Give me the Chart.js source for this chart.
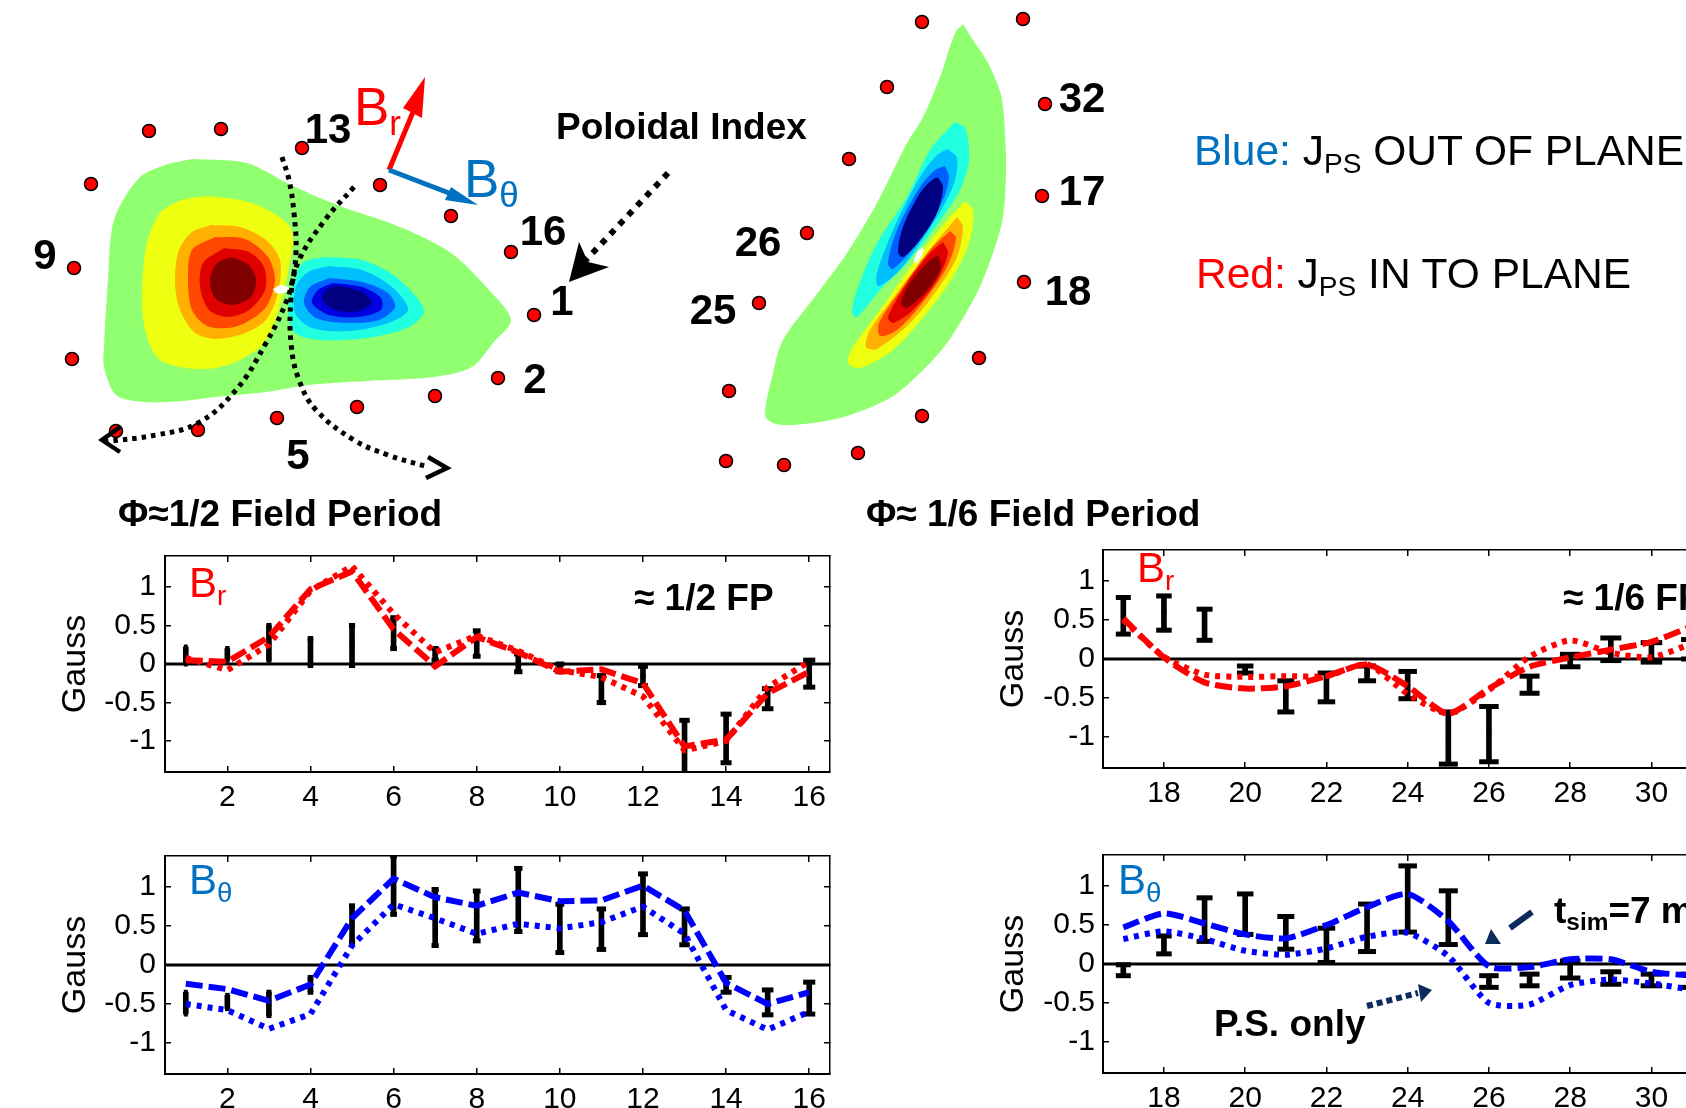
<!DOCTYPE html>
<html>
<head>
<meta charset="utf-8">
<script src="https://cdn.jsdelivr.net/npm/chart.js@4/dist/chart.umd.js"></script>
<style>
  html, body { margin: 0; background: #fff; width: 1686px; height: 1108px; overflow: hidden; font-family: "Liberation Sans", sans-serif; }
  canvas { position: absolute; }
  .t { position: absolute; white-space: nowrap; color: #000; line-height: 1; transform: translateY(-50%); }
  .n { font-weight: bold; font-size: 42px; transform: translate(-50%, -50%); }
  .h { font-weight: bold; font-size: 37px; }
  .s { font-size: 42.5px; }
  .b { font-size: 53px; }
  .p { font-size: 42px; }
  sub { font-size: 66%; vertical-align: baseline; position: relative; top: 0.28em; line-height: 0; }
</style>
</head>
<body>
<canvas id="panelA"></canvas>
<canvas id="panelB"></canvas>
<canvas id="panelC"></canvas>
<canvas id="panelD"></canvas>
<canvas id="maps"></canvas>

<div class="t n" style="left:328px;top:129px">13</div>
<div class="t n" style="left:543px;top:231px">16</div>
<div class="t n" style="left:45px;top:255px">9</div>
<div class="t n" style="left:562px;top:301px">1</div>
<div class="t n" style="left:535px;top:379px">2</div>
<div class="t n" style="left:298px;top:455px">5</div>
<div class="t n" style="left:1082px;top:98px">32</div>
<div class="t n" style="left:1082px;top:191px">17</div>
<div class="t n" style="left:1068px;top:291px">18</div>
<div class="t n" style="left:758px;top:242px">26</div>
<div class="t n" style="left:713px;top:310px">25</div>
<div class="t b" style="left:354px;top:106px;color:#f00">B<sub>r</sub></div>
<div class="t b" style="left:464px;top:178px;color:#0070c0">B<sub>θ</sub></div>
<div class="t h" style="left:556px;top:126px">Poloidal Index</div>
<div class="t h" style="left:118px;top:513px">Φ≈1/2 Field Period</div>
<div class="t h" style="left:866px;top:513px">Φ≈ 1/6 Field Period</div>
<div class="t s" style="left:1194px;top:151px"><span style="color:#0070c0">Blue:</span> J<sub>PS</sub> OUT OF PLANE</div>
<div class="t s" style="left:1196px;top:274px"><span style="color:#f00">Red:</span> J<sub>PS</sub> IN TO PLANE</div>
<div class="t h" style="left:634px;top:597px">≈ 1/2 FP</div>
<div class="t h" style="left:1563px;top:597px">≈ 1/6 FP</div>
<div class="t p" style="left:189px;top:583px;color:#f00">B<sub>r</sub></div>
<div class="t p" style="left:189px;top:880px;color:#0070c0">B<sub>θ</sub></div>
<div class="t p" style="left:1137px;top:568px;color:#f00">B<sub>r</sub></div>
<div class="t p" style="left:1118px;top:880px;color:#0070c0">B<sub>θ</sub></div>
<div class="t h" style="left:1554px;top:910px">t<sub>sim</sub>=7 ms</div>
<div class="t h" style="left:1214px;top:1023px">P.S. only</div>

<script>
// --- probe indices and tick labels
const indexHalf = [1, 2, 3, 4, 5, 6, 7, 8, 9, 10, 11, 12, 13, 14, 15, 16];
const indexSixth = [17, 18, 19, 20, 21, 22, 23, 24, 25, 26, 27, 28, 29, 30, 31];
const xTicksHalf = [2, 4, 6, 8, 10, 12, 14, 16];
const xTicksSixth = [18, 20, 22, 24, 26, 28, 30, 32];
const yTickValues = [-1, -0.5, 0, 0.5, 1];

// --- Br, 1/2 field period
const brHalfFull = [0.05, 0.03, 0.35, 0.97, 1.2, 0.45, -0.03, 0.35, 0.15, -0.1, -0.07, -0.25, -1.07, -0.98, -0.38, -0.1];
const brHalfPs = [0.08, -0.08, 0.25, 0.95, 1.27, 0.65, 0.15, 0.37, 0.17, -0.08, -0.17, -0.42, -1.12, -1.0, -0.3, 0.03];
const brHalfLow = [0, 0.05, 0.05, -0.02, -0.02, 0.2, 0.05, 0.1, -0.1, -0.1, -0.5, -0.28, -1.42, -1.28, -0.58, -0.3];
const brHalfHigh = [0.22, 0.2, 0.5, 0.33, 0.5, 0.6, 0.2, 0.43, 0.13, 0, -0.15, -0.03, -0.73, -0.65, -0.32, 0.05];
const brHalfMid = [0.1, 0.12, 0.27, 0.15, 0.23, 0.4, 0.12, 0.27, 0, -0.05, -0.33, -0.15, -1.12, -0.97, -0.45, -0.13];

// --- Btheta, 1/2 field period
const btHalfFull = [-0.24, -0.31, -0.46, -0.25, 0.6, 1.11, 0.87, 0.76, 0.93, 0.82, 0.83, 1.02, 0.7, -0.23, -0.5, -0.35];
const btHalfPs = [-0.5, -0.58, -0.82, -0.63, 0.25, 0.78, 0.6, 0.4, 0.53, 0.47, 0.55, 0.75, 0.4, -0.58, -0.83, -0.6];
const btHalfLow = [-0.63, -0.56, -0.65, -0.35, 0.29, 0.65, 0.25, 0.31, 0.43, 0.16, 0.2, 0.39, 0.26, -0.35, -0.64, -0.63];
const btHalfHigh = [-0.35, -0.39, -0.35, -0.16, 0.76, 1.4, 0.97, 0.95, 1.24, 0.78, 0.72, 1.17, 0.72, -0.16, -0.32, -0.22];
const btHalfMid = [-0.5, -0.5, -0.52, -0.25, 0.52, 1.0, 0.6, 0.63, 0.85, 0.47, 0.46, 0.78, 0.47, -0.26, -0.48, -0.42];

// --- Br, 1/6 field period
const brSixthFull = [0.52, 0.02, -0.3, -0.38, -0.35, -0.22, -0.07, -0.35, -0.7, -0.38, -0.1, 0.02, 0.12, 0.22, 0.42];
const brSixthPs = [0.5, 0.03, -0.2, -0.23, -0.22, -0.22, -0.07, -0.45, -0.7, -0.4, 0.03, 0.24, 0.08, 0.02, 0.2];
const brSixthLow = [0.32, 0.37, 0.24, -0.18, -0.68, -0.55, -0.28, -0.51, -1.35, -1.32, -0.44, -0.1, -0.02, -0.04, 0];
const brSixthHigh = [0.79, 0.81, 0.64, -0.09, -0.28, -0.18, -0.09, -0.16, -0.68, -0.61, -0.22, 0.06, 0.27, 0.21, 0.25];
const brSixthMid = [0.55, 0.6, 0.45, -0.13, -0.47, -0.37, -0.18, -0.33, -1.02, -0.96, -0.32, -0.02, 0.12, 0.08, 0.12];

// --- Btheta, 1/6 field period
const btSixthFull = [0.47, 0.65, 0.52, 0.38, 0.33, 0.5, 0.73, 0.9, 0.55, -0.03, -0.04, 0.06, 0.06, -0.1, -0.15];
const btSixthPs = [0.32, 0.42, 0.32, 0.17, 0.12, 0.2, 0.35, 0.4, 0.1, -0.5, -0.52, -0.27, -0.2, -0.25, -0.33];
const btSixthLow = [-0.15, 0.13, 0.29, 0.38, 0.19, 0.02, 0.16, 0.41, 0.25, -0.3, -0.28, -0.18, -0.26, -0.28, -0.3];
const btSixthHigh = [-0.01, 0.36, 0.85, 0.9, 0.61, 0.46, 0.77, 1.26, 0.94, -0.15, -0.13, 0.04, -0.1, -0.13, -0.13];
const btSixthMid = [-0.08, 0.25, 0.57, 0.65, 0.4, 0.25, 0.47, 0.85, 0.58, -0.22, -0.2, -0.07, -0.18, -0.2, -0.22];

// --- cross section, 1/2 field period (contour outlines, outer to inner)
const halfGreen = [[192,159],[236,161],[253,165],[291,185],[337,205],[400,227],[451,253],[489,290],[511,320],[493,343],[472,367],[434,377],[367,381],[308,385],[266,392],[215,397],[182,401],[144,402],[116,395],[104,367],[104,347],[108,280],[114,220],[139,178],[165,165]];
const halfYellow = [[207,196],[240,200],[264,208],[287,223],[293,237],[289,267],[278,313],[264,343],[240,360],[215,368],[186,368],[160,360],[148,340],[142,307],[146,247],[160,213],[182,200]];
const halfOrange = [[211,225],[240,227],[266,240],[280,260],[278,293],[266,320],[245,333],[215,339],[194,332],[179,307],[175,280],[179,250],[192,232]];
const halfRedOrange = [[215,237],[245,239],[268,257],[275,280],[266,307],[245,323],[228,328],[207,326],[192,310],[188,280],[192,250]];
const halfRed = [[224,248],[249,252],[264,267],[265,290],[249,310],[228,317],[209,310],[200,287],[203,263]];
const halfDarkRed = [[232,257],[249,265],[256,280],[251,297],[232,305],[215,298],[210,280],[217,263]];
const halfAqua = [[325,257],[362,260],[396,277],[424,310],[409,327],[367,338],[320,340],[295,333],[288,313],[295,277],[304,262]];
const halfCyan = [[329,266],[362,270],[392,287],[408,310],[388,323],[350,331],[312,328],[295,313],[296,287],[308,272]];
const halfBlue = [[329,278],[362,282],[388,293],[395,307],[379,320],[346,323],[316,318],[304,303],[310,287]];
const halfDeepBlue = [[333,283],[362,287],[381,298],[381,310],[358,317],[329,315],[312,303],[318,290]];
const halfNavy = [[341,286],[362,292],[372,302],[362,310],[346,312],[329,307],[322,297],[329,288]];
const halfHole = [[273,289],[281,285],[289,288],[284,293],[276,293]];

// --- cross section, 1/6 field period
const sixthGreen = [[963,24],[973,40],[988,63],[1001,95],[1005,133],[1006,173],[1003,217],[993,253],[977,293],[947,343],[920,373],[890,398],[840,418],[793,425],[773,423],[765,415],[773,373],[783,340],[820,290],[847,253],[877,203],[907,143],[923,117],[940,77],[955,33]];
const sixthAqua = [[955,122],[965,128],[969,160],[960,190],[933,230],[907,263],[880,290],[857,317],[852,313],[857,290],[877,243],[907,197],[930,150]];
const sixthCyan = [[948,149],[957,158],[955,180],[943,207],[920,243],[897,273],[878,286],[877,273],[893,230],[920,177],[937,155]];
const sixthBlue = [[945,166],[949,177],[943,200],[920,240],[893,269],[888,263],[897,230],[920,187],[935,170]];
const sixthNavy = [[938,177],[943,187],[937,213],[920,240],[903,257],[898,252],[903,227],[920,193],[932,180]];
const sixthYellow = [[965,201],[973,210],[970,240],[953,277],[927,313],[893,350],[860,368],[848,363],[853,347],[880,310],[913,263],[947,220]];
const sixthOrange = [[957,217],[963,227],[957,257],[937,290],[910,323],[877,349],[866,347],[870,330],[897,293],[927,253]];
const sixthRedOrange = [[950,231],[956,238],[947,267],[923,302],[897,330],[880,336],[879,323],[903,287],[930,250]];
const sixthRed = [[943,242],[948,253],[937,280],[913,310],[893,323],[888,317],[907,283],[930,253]];
const sixthDarkRed = [[938,255],[941,267],[930,287],[907,308],[901,303],[910,283],[927,263]];
const sixthHole = [[923,247],[923,253],[917,263],[914,262],[917,252]];

// --- probes
const probesHalf = [[149,131],[221,129],[302,148],[380,185],[451,216],[511,252],[534,315],[498,378],[435,396],[357,407],[277,418],[198,430],[116,431],[72,359],[74,268],[91,184]];
const probesSixth = [[922,22],[1023,19],[1045,104],[1042,196],[1024,282],[979,358],[922,416],[858,453],[784,465],[726,461],[729,391],[759,303],[807,233],[849,159],[887,87]];

// --- dotted guides and arrows
const guideA = [[282,157],[289,180],[294,213],[296,253],[291,297],[291,343],[299,380],[316,410],[354,440],[388,455],[428,467]];
const guideB = [[354,187],[325,220],[299,260],[287,300],[266,343],[236,390],[198,423],[156,435],[102,442]];
const chevronA = [[428,457],[447,468],[426,478]];
const chevronB = [[120,427],[102,440],[120,452]];
const poloidalShaft = [[668,173],[586,260]];
const poloidalHead = [[579,242],[569,282],[609,267],[588,262]];
const brShaft = [[389,170],[418,100]];
const brHead = [[403,108],[425,77],[422,118]];
const btShaft = [[389,170],[462,198]];
const btHead = [[451,187],[478,205],[445,200]];
const simShaft = [[1532,912],[1510,928]];
const simHead = [[1491,929],[1485,944],[1501,944]];
const psShaft = [[1367,1006],[1418,993]];
const psHead = [[1432,990],[1418,984],[1421,1002]];

const xy = (pts) => pts.map(([x, y]) => ({ x, y }));
const ring = (pts) => xy([...pts, pts[0]]);
const zip = (xs, ys) => xs.map((x, i) => ({ x, y: ys[i] }));

const axisFont = { family: "'Liberation Sans', sans-serif", size: 30 };
const TICK = -6;
const noMargins = (scale) => {
  scale.paddingLeft = scale.paddingRight = scale.paddingTop = scale.paddingBottom = 0;
};

function makePanel(id, p) {
  const yAxisW = 130, xAxisH = 52, padTop = 6, padRight = 12;
  const canvas = document.getElementById(id);
  canvas.width = yAxisW + p.plotW + padRight;
  canvas.height = padTop + p.plotH + xAxisH;
  canvas.style.left = p.plotX - yAxisW + "px";
  canvas.style.top = p.plotY - padTop + "px";

  const xMin = p.index[0] - 0.5;
  const xMax = xMin + 16;
  const tension = p.smooth ? 0.22 : 0;
  const boxTicks = { drawOnChartArea: false, tickLength: TICK, color: "#000", lineWidth: 1.5 };
  const border = { display: true, color: "#000", width: 2 };
  const capRadius = (ctx) => (p.smooth ? 7.5 + ctx.dataIndex * 0.25 : 2 + ctx.dataIndex * 0.27);

  new Chart(canvas, {
    type: "line",
    data: {
      datasets: [
        { data: zip(p.index, p.full), borderColor: p.color, borderWidth: 6, borderDash: [17, 6], pointRadius: 0, tension, order: 1 },
        { data: zip(p.index, p.ps), borderColor: p.color, borderWidth: 6, borderDash: [5, 6], pointRadius: 0, tension, order: 2 },
        { data: zip(p.index, p.mid), showLine: false, pointRadius: 2.5, pointBackgroundColor: "#000", pointBorderWidth: 0, order: 3 },
        { data: zip(p.index, p.low), showLine: false, pointStyle: "line", pointRadius: capRadius, pointBorderColor: "#000", pointBorderWidth: 5, order: 3 },
        { data: zip(p.index, p.high), showLine: false, pointStyle: "line", pointRadius: capRadius, pointBorderColor: "#000", pointBorderWidth: 5, order: 3 },
        { type: "bar", data: p.index.map((x, i) => ({ x, y: [p.low[i], p.high[i]] })), backgroundColor: "#000", barThickness: 5, order: 4 },
        { data: [{ x: xMin, y: 0 }, { x: xMax, y: 0 }], borderColor: "#000", borderWidth: 3, pointRadius: 0, order: 5 },
      ],
    },
    options: {
      responsive: false,
      animation: false,
      layout: { autoPadding: false, padding: { top: padTop, right: padRight, left: 0, bottom: 0 } },
      plugins: { legend: { display: false }, tooltip: { enabled: false } },
      scales: {
        x: {
          type: "linear", position: "bottom", min: xMin, max: xMax, offset: false,
          grid: { ...boxTicks, offset: false }, border,
          ticks: { color: "#000", font: axisFont, padding: 14, maxRotation: 0, autoSkip: false, callback: (v) => String(v) },
          afterBuildTicks: (s) => { s.ticks = p.xTicks.map((value) => ({ value })); },
          afterFit: (s) => { s.height = xAxisH; noMargins(s); },
        },
        xTop: {
          type: "linear", position: "top", min: xMin, max: xMax, offset: false,
          grid: { ...boxTicks, offset: false }, border: { ...border, width: 1.5 },
          ticks: { display: false },
          afterBuildTicks: (s) => { s.ticks = p.xTicks.map((value) => ({ value })); },
          afterFit: (s) => { s.height = 0; noMargins(s); },
        },
        y: {
          type: "linear", position: "left", min: -1.4, max: 1.4,
          grid: boxTicks, border,
          title: { display: true, text: "Gauss", color: "#000", font: { ...axisFont, size: 34 }, padding: { top: 20, bottom: 0 } },
          ticks: { color: "#000", font: axisFont, padding: p.yPad, callback: (v) => String(v) },
          afterBuildTicks: (s) => { s.ticks = yTickValues.map((value) => ({ value })); },
          afterFit: (s) => { s.width = yAxisW; noMargins(s); },
        },
        yRight: {
          type: "linear", position: "right", min: -1.4, max: 1.4,
          grid: boxTicks, border: { ...border, width: 1.5 },
          ticks: { display: false },
          afterBuildTicks: (s) => { s.ticks = yTickValues.map((value) => ({ value })); },
          afterFit: (s) => { s.width = 0; noMargins(s); },
        },
      },
    },
  });
}

makePanel("panelA", { plotX: 164.5, plotY: 555.5, plotW: 665, plotH: 216, yPad: 15, index: indexHalf, xTicks: xTicksHalf, color: "#f00", full: brHalfFull, ps: brHalfPs, low: brHalfLow, high: brHalfHigh, mid: brHalfMid });
makePanel("panelB", { plotX: 164.5, plotY: 855.5, plotW: 665, plotH: 218.5, yPad: 15, index: indexHalf, xTicks: xTicksHalf, color: "#00f", full: btHalfFull, ps: btHalfPs, low: btHalfLow, high: btHalfHigh, mid: btHalfMid });
makePanel("panelC", { plotX: 1102.5, plotY: 550, plotW: 650, plotH: 218, yPad: 14, smooth: true, index: indexSixth, xTicks: xTicksSixth, color: "#f00", full: brSixthFull, ps: brSixthPs, low: brSixthLow, high: brSixthHigh, mid: brSixthMid });
makePanel("panelD", { plotX: 1102.5, plotY: 855, plotW: 650, plotH: 218.5, yPad: 14, smooth: true, index: indexSixth, xTicks: xTicksSixth, color: "#00f", full: btSixthFull, ps: btSixthPs, low: btSixthLow, high: btSixthHigh, mid: btSixthMid });

// --- the page-wide layer with both cross sections and all the arrows
const contour = (pts, color) => ({ data: ring(pts), fill: "shape", backgroundColor: color, borderWidth: 0, pointRadius: 0, tension: 0.3 });
const solid = (pts, color, width) => ({ data: xy(pts), borderColor: color, borderWidth: width, pointRadius: 0 });
const dotted = (pts, color, width, dash, tension) => ({ data: xy(pts), borderColor: color, borderWidth: width, borderDash: dash, pointRadius: 0, tension });
const head = (pts, color) => ({ data: ring(pts), fill: "shape", backgroundColor: color, borderWidth: 0, pointRadius: 0 });
const probes = (pts) => ({ data: xy(pts), showLine: false, pointRadius: 6.5, pointBackgroundColor: "#f00", pointBorderColor: "#000", pointBorderWidth: 1.5 });

const mapLayers = [
  contour(halfGreen, "#90ff70"), contour(halfYellow, "#efff10"), contour(halfOrange, "#ffb000"),
  contour(halfRedOrange, "#ff4800"), contour(halfRed, "#e00000"), contour(halfDarkRed, "#800000"),
  contour(halfAqua, "#20ffe0"), contour(halfCyan, "#00bfff"), contour(halfBlue, "#0060ff"),
  contour(halfDeepBlue, "#0000e0"), contour(halfNavy, "#000080"), contour(halfHole, "#fff"),
  contour(sixthGreen, "#90ff70"), contour(sixthAqua, "#20ffe0"), contour(sixthCyan, "#00bfff"),
  contour(sixthBlue, "#0060ff"), contour(sixthNavy, "#000080"), contour(sixthYellow, "#efff10"),
  contour(sixthOrange, "#ffb000"), contour(sixthRedOrange, "#ff4800"), contour(sixthRed, "#e00000"),
  contour(sixthDarkRed, "#800000"), contour(sixthHole, "#fff"),
  probes(probesHalf), probes(probesSixth),
  dotted(guideA, "#000", 5, [4.5, 5], 0.4), dotted(guideB, "#000", 5, [4.5, 5], 0.4),
  solid(chevronA, "#000", 4.5), solid(chevronB, "#000", 4.5),
  dotted(poloidalShaft, "#000", 6, [6, 7], 0), head(poloidalHead, "#000"),
  solid(brShaft, "#f00", 5), head(brHead, "#f00"),
  solid(btShaft, "#0070c0", 5), head(btHead, "#0070c0"),
  dotted(simShaft, "#0d2a5c", 6, [], 0), head(simHead, "#0d2a5c"),
  dotted(psShaft, "#0d2a5c", 6, [6, 4], 0), head(psHead, "#0d2a5c"),
];
// later layers sit on top
mapLayers.forEach((d, i) => { d.order = mapLayers.length - i; });

const mapCanvas = document.getElementById("maps");
mapCanvas.width = 1686;
mapCanvas.height = 1108;
mapCanvas.style.left = "0px";
mapCanvas.style.top = "0px";
new Chart(mapCanvas, {
  type: "line",
  data: { datasets: mapLayers },
  options: {
    responsive: false,
    animation: false,
    layout: { autoPadding: false },
    plugins: { legend: { display: false }, tooltip: { enabled: false } },
    scales: {
      x: { type: "linear", display: false, min: 0, max: 1686 },
      y: { type: "linear", display: false, min: 0, max: 1108, reverse: true },
    },
  },
});
</script>
</body>
</html>
